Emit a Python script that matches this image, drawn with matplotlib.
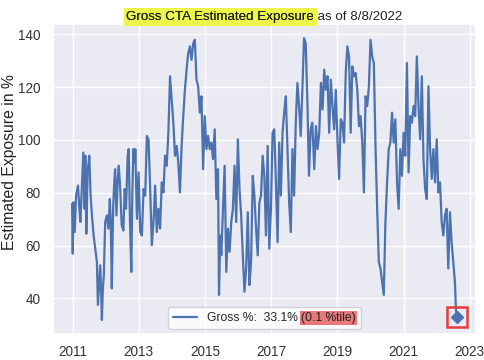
import matplotlib
matplotlib.use("Agg")
import matplotlib.pyplot as plt
import seaborn as sns

sns.set_theme(style="darkgrid")
plt.rcParams["font.family"] = ["Liberation Sans", "DejaVu Sans"]

# decimal year, gross exposure in %
years = [
    2010.98, 2011.00, 2011.02, 2011.06, 2011.10, 2011.16, 2011.20, 2011.23, 2011.28, 2011.32,
    2011.36, 2011.38, 2011.41, 2011.45, 2011.50, 2011.54, 2011.58, 2011.63, 2011.68, 2011.73,
    2011.76, 2011.80, 2011.83, 2011.86, 2011.88, 2011.91, 2011.94, 2011.98, 2012.03, 2012.08,
    2012.12, 2012.15, 2012.18, 2012.22, 2012.25, 2012.28, 2012.32, 2012.36, 2012.39, 2012.43,
    2012.48, 2012.53, 2012.57, 2012.61, 2012.66, 2012.69, 2012.73, 2012.77, 2012.80, 2012.83,
    2012.88, 2012.89, 2012.94, 2012.99, 2013.04, 2013.09, 2013.14, 2013.19, 2013.24, 2013.29,
    2013.34, 2013.39, 2013.44, 2013.49, 2013.54, 2013.59, 2013.64, 2013.69, 2013.74, 2013.79,
    2013.84, 2013.89, 2013.94, 2013.99, 2014.04, 2014.09, 2014.14, 2014.19, 2014.24, 2014.29,
    2014.34, 2014.39, 2014.44, 2014.49, 2014.54, 2014.59, 2014.64, 2014.69, 2014.74, 2014.79,
    2014.84, 2014.89, 2014.94, 2014.99, 2015.04, 2015.09, 2015.14, 2015.19, 2015.24, 2015.29,
    2015.34, 2015.39, 2015.42, 2015.46, 2015.49, 2015.54, 2015.59, 2015.64, 2015.69, 2015.74,
    2015.79, 2015.84, 2015.89, 2015.94, 2015.99, 2016.04, 2016.09, 2016.14, 2016.19, 2016.24,
    2016.29, 2016.34, 2016.39, 2016.44, 2016.49, 2016.54, 2016.59, 2016.64, 2016.69, 2016.74,
    2016.79, 2016.84, 2016.89, 2016.94, 2016.99, 2017.04, 2017.09, 2017.14, 2017.19, 2017.24,
    2017.29, 2017.34, 2017.39, 2017.44, 2017.49, 2017.54, 2017.59, 2017.64, 2017.69, 2017.74,
    2017.79, 2017.84, 2017.89, 2017.94, 2017.99, 2018.04, 2018.09, 2018.14, 2018.19, 2018.24,
    2018.30, 2018.35, 2018.40, 2018.45, 2018.50, 2018.55, 2018.60, 2018.65, 2018.70, 2018.75,
    2018.80, 2018.85, 2018.90, 2018.95, 2019.00, 2019.05, 2019.10, 2019.15, 2019.20, 2019.25,
    2019.30, 2019.35, 2019.40, 2019.45, 2019.50, 2019.55, 2019.60, 2019.65, 2019.70, 2019.75,
    2019.80, 2019.85, 2019.90, 2019.95, 2020.00, 2020.05, 2020.10, 2020.15, 2020.20, 2020.25,
    2020.30, 2020.35, 2020.40, 2020.45, 2020.50, 2020.55, 2020.60, 2020.65, 2020.70, 2020.75,
    2020.80, 2020.85, 2020.90, 2020.95, 2021.00, 2021.05, 2021.10, 2021.15, 2021.20, 2021.25,
    2021.30, 2021.35, 2021.40, 2021.45, 2021.50, 2021.55, 2021.60, 2021.65, 2021.70, 2021.75,
    2021.80, 2021.85, 2021.90, 2021.95, 2022.00, 2022.05, 2022.10, 2022.15, 2022.20, 2022.25,
    2022.30, 2022.35, 2022.40, 2022.45, 2022.50, 2022.55, 2022.58, 2022.60,
]
gross = [
    75.8, 56.9, 76.4, 65.1, 78.9, 82.7, 73.9, 68.9, 83.9, 95.2,
    73.9, 94.0, 64.5, 87.7, 94.0, 78.9, 71.4, 63.8, 58.8, 53.8,
    37.5, 46.3, 52.5, 41.3, 31.8, 43.8, 48.8, 68.9, 71.4, 66.4,
    77.6, 68.9, 43.8, 73.9, 82.7, 88.9, 71.4, 85.2, 90.2, 82.7,
    67.6, 65.7, 81.4, 73.9, 94.0, 96.5, 68.9, 50.0, 78.9, 96.5,
    91.4, 96.5, 70.1, 87.7, 65.1, 63.8, 81.4, 78.9, 101.5, 100.2,
    81.4, 60.1, 68.9, 82.7, 65.1, 73.9, 66.4, 83.9, 80.1, 94.0,
    90.2, 102.7, 124.1, 115.3, 106.5, 94.0, 97.7, 91.4, 80.1, 97.7,
    109.0, 119.0, 126.6, 132.8, 135.4, 130.3, 136.6, 137.9, 122.8, 120.3,
    110.3, 116.5, 88.9, 109.0, 96.5, 101.5, 96.5, 99.0, 92.7, 104.0,
    77.6, 88.9, 41.3, 63.8, 56.3, 73.9, 90.2, 50.0, 66.4, 57.6,
    68.9, 73.9, 90.2, 68.9, 100.2, 81.4, 71.4, 56.3, 42.5, 51.3,
    72.6, 45.0, 53.8, 86.4, 78.9, 66.4, 56.3, 76.4, 78.9, 94.0,
    86.4, 63.8, 97.7, 58.8, 73.9, 102.7, 104.0, 83.9, 61.3, 99.0,
    78.9, 102.7, 110.3, 116.5, 96.5, 76.4, 65.1, 96.5, 78.9, 106.5,
    121.6, 112.8, 101.5, 119.0, 138.5, 136.6, 115.3, 86.4, 104.0, 106.5,
    88.9, 105.2, 96.5, 102.7, 121.6, 111.5, 126.6, 119.0, 124.1, 102.7,
    122.8, 112.8, 104.0, 119.0, 100.2, 85.2, 107.8, 106.5, 99.0, 125.3,
    135.4, 131.6, 102.7, 127.8, 124.1, 125.3, 119.0, 105.2, 109.0, 99.0,
    80.1, 116.5, 112.8, 120.3, 137.9, 131.6, 129.1, 97.7, 73.9, 53.8,
    51.3, 46.3, 41.3, 68.9, 83.9, 96.5, 99.0, 110.3, 99.0, 107.8,
    83.9, 73.9, 96.5, 86.4, 102.7, 94.0, 129.1, 87.7, 109.0, 106.5,
    112.8, 109.0, 131.6, 112.8, 100.2, 124.1, 92.7, 81.4, 77.6, 120.3,
    96.5, 85.2, 96.5, 83.9, 100.2, 80.1, 83.9, 68.9, 63.8, 71.4,
    73.9, 51.3, 72.6, 61.3, 53.8, 46.3, 36.2, 33.1,
]
last_value = 33.1
last_pctile = 0.1
title_main = "Gross CTA Estimated Exposure"
title_date = "8/8/2022"
xticks = [2011, 2013, 2015, 2017, 2019, 2021, 2023]

blue = "#4C72B0"
dark = "#222222"

fig = plt.figure(figsize=(4.85, 3.6), dpi=100)
ax = fig.add_axes([0.109, 0.072, 0.872, 0.861])

ax.plot(years, gross, color=blue, lw=1.6,
        label=f"Gross %:  {last_value}% ({last_pctile} %tile)")
ax.plot(years[-1], gross[-1], marker="D", ms=6, color=blue)
ax.plot(years[-1], gross[-1], marker="s", ms=15, mfc="none",
        mec="#e8393c", mew=1.8)

ax.set_xticks(xticks)
ax.set_yticks([40, 60, 80, 100, 120, 140])
ax.tick_params(labelsize=9.8, colors="#333333")
ax.tick_params(axis="x", pad=2)
ax.tick_params(axis="y", pad=3)
ax.set_ylabel("Estimated Exposure in %", fontsize=11.3, color=dark)
ax.yaxis.set_label_coords(-0.085, 0.555)

# title with a highlighted first part
t = ax.set_title(f"{title_main} as of {title_date}", fontsize=9.6, pad=3,
                 color=dark)
ax.annotate(title_main, xy=(0, 0), xycoords=t, ha="left", va="bottom",
            fontsize=9.6, color=dark,
            bbox=dict(boxstyle="square,pad=0.2", fc="#eef54a", ec="none"))

leg = ax.legend(loc="lower center", fontsize=8.7, facecolor="white",
                edgecolor="#cccccc", framealpha=0.8, borderaxespad=0.45,
                handlelength=2.0)
ax.annotate(f"({last_pctile} %tile)", xy=(1, 0), xycoords=leg.get_texts()[0],
            ha="right", va="bottom", fontsize=8.7, color=dark, zorder=6,
            bbox=dict(boxstyle="square,pad=0.1", fc="#e8787a", ec="none"))

fig.savefig("out.png", dpi=100)
